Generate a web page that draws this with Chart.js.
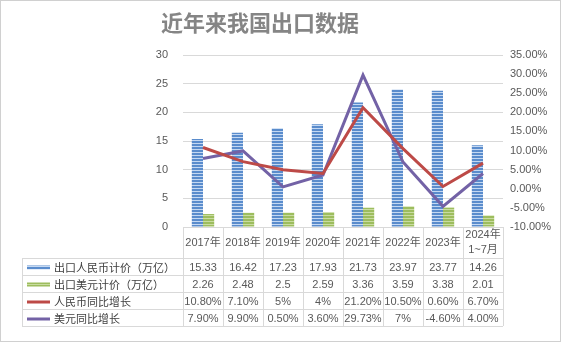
<!DOCTYPE html>
<html>
<head>
<meta charset="utf-8">
<script src="https://cdn.jsdelivr.net/npm/chart.js@4/dist/chart.umd.min.js"></script>
<style>
    html, body { margin: 0; padding: 0; background: #fff; }
    #wrap { width: 561px; height: 342px; position: relative; }
</style>
</head>
<body>
<div id="wrap"><canvas id="exportChart"></canvas></div>
<script>
// Data
const chartTitle = '近年来我国出口数据';
const years = ['2017年', '2018年', '2019年', '2020年', '2021年', '2022年', '2023年', ['2024年', '1~7月']];
const rmbValue = [15.33, 16.42, 17.23, 17.93, 21.73, 23.97, 23.77, 14.26];
const usdValue = [2.26, 2.48, 2.5, 2.59, 3.36, 3.59, 3.38, 2.01];
const rmbGrowth = [10.8, 7.1, 5, 4, 21.2, 10.5, 0.6, 6.7];
const usdGrowth = [7.9, 9.9, 0.5, 3.6, 29.73, 7, -4.6, 4.0];
const rmbGrowthText = ['10.80%', '7.10%', '5%', '4%', '21.20%', '10.50%', '0.60%', '6.70%'];
const usdGrowthText = ['7.90%', '9.90%', '0.50%', '3.60%', '29.73%', '7%', '-4.60%', '4.00%'];
const seriesNames = ['出口人民币计价（万亿）', '出口美元计价（万亿）', '人民币同比增长', '美元同比增长'];

const BLUE = '#5a8ccc', BLUE_LIGHT = '#c4d8f2';
const GREEN = '#9dbd5e', GREEN_LIGHT = '#c9dca0';
const RED = '#bd4a47', PURPLE = '#7362a6';
const FONT = "'Liberation Sans', 'Noto Sans CJK SC', sans-serif";
const CJK = "'Noto Sans CJK SC', sans-serif";

function stripes(base, light) {
    const c = document.createElement('canvas');
    c.width = 4; c.height = 3;
    const g = c.getContext('2d');
    g.fillStyle = base; g.fillRect(0, 0, 4, 3);
    g.fillStyle = light; g.fillRect(0, 2, 4, 1);
    return g.createPattern(c, 'repeat');
}
const bluePat = stripes(BLUE, BLUE_LIGHT);
const greenPat = stripes(GREEN, GREEN_LIGHT);

// title + data table under the plot, drawn along the x scale
const tablePlugin = {
    id: 'dataTable',
    afterDraw(chart) {
        const ctx = chart.ctx;
        const xs = chart.scales.x;
        const area = chart.chartArea;
        const colW = xs.getPixelForValue(1) - xs.getPixelForValue(0);
        const left = xs.getPixelForValue(0) - colW / 2;
        const right = left + colW * years.length;
        const top = area.bottom;
        const headBottom = 258;
        const rowH = 17;
        const tableLeft = 22;
        const bottom = headBottom + rowH * 4;

        ctx.save();
        ctx.fillStyle = '#858585';
        ctx.textAlign = 'center';
        ctx.textBaseline = 'middle';
        ctx.font = 'bold 22px ' + CJK;
        ctx.fillText(chartTitle, 260, 23);

        ctx.strokeStyle = '#d9d9d9';
        ctx.lineWidth = 1;
        ctx.beginPath();
        for (let i = 0; i <= years.length; i++) {
            const x = Math.round(left + i * colW) + 0.5;
            ctx.moveTo(x, top); ctx.lineTo(x, bottom);
        }
        for (let r = 0; r <= 4; r++) {
            const y = headBottom + r * rowH + 0.5;
            ctx.moveTo(tableLeft, y); ctx.lineTo(right, y);
        }
        ctx.moveTo(tableLeft + 0.5, headBottom); ctx.lineTo(tableLeft + 0.5, bottom);
        ctx.stroke();

        ctx.fillStyle = '#595959';
        ctx.font = '11px ' + FONT;
        years.forEach((y, i) => {
            const cx = left + (i + 0.5) * colW;
            if (Array.isArray(y)) {
                ctx.fillText(y[0], cx, 235);
                ctx.fillText(y[1], cx, 250);
            } else {
                ctx.fillText(y, cx, 243);
            }
        });
        const rows = [rmbValue.map(v => v.toString()), usdValue.map(v => v.toString()), rmbGrowthText, usdGrowthText];
        rows.forEach((vals, r) => {
            const cy = headBottom + r * rowH + rowH / 2 + 1;
            vals.forEach((v, i) => ctx.fillText(v, left + (i + 0.5) * colW, cy));
        });

        // legend keys
        const keys = [bluePat, greenPat, RED, PURPLE];
        ctx.textAlign = 'left';
        ctx.font = '11px ' + CJK;
        seriesNames.forEach((name, r) => {
            const cy = headBottom + r * rowH + rowH / 2 + 1;
            ctx.fillStyle = keys[r];
            if (r < 2) ctx.fillRect(27, cy - 2, 23, 4);
            else ctx.fillRect(27, cy - 1, 23, 3);
            ctx.fillStyle = '#404040';
            ctx.fillText(name, 54, cy);
        });

        // outer frame
        ctx.strokeStyle = '#d0d0d0';
        ctx.strokeRect(0.5, 0.5, chart.width - 1, chart.height - 1);
        ctx.restore();
    }
};

const chart = new Chart(document.getElementById('exportChart'), {
    type: 'bar',
    data: {
        labels: years,
        datasets: [{
            label: seriesNames[2],
            type: 'line',
            data: rmbGrowth,
            yAxisID: 'y1',
            borderColor: RED,
            borderWidth: 3,
            pointRadius: 0,
            tension: 0,
            order: 0
        }, {
            label: seriesNames[3],
            type: 'line',
            data: usdGrowth,
            yAxisID: 'y1',
            borderColor: PURPLE,
            borderWidth: 3,
            pointRadius: 0,
            tension: 0,
            order: 0
        }, {
            label: seriesNames[0],
            data: rmbValue,
            yAxisID: 'y',
            backgroundColor: bluePat,
            borderWidth: 0,
            categoryPercentage: 0.56,
            barPercentage: 1.0,
            order: 1
        }, {
            label: seriesNames[1],
            data: usdValue,
            yAxisID: 'y',
            backgroundColor: greenPat,
            borderWidth: 0,
            categoryPercentage: 0.56,
            barPercentage: 1.0,
            order: 1
        }]
    },
    options: {
        responsive: true,
        maintainAspectRatio: false,
        animation: false,
        layout: {
            padding: { top: 55, bottom: 115, left: 0, right: 0 }
        },
        plugins: {
            legend: { display: false },
            tooltip: { enabled: false },
            title: { display: false }
        },
        scales: {
            x: {
                display: false,
                offset: true
            },
            y: {
                position: 'left',
                min: 0,
                max: 30,
                ticks: {
                    stepSize: 5,
                    color: '#595959',
                    padding: 15,
                    font: { family: FONT, size: 11 }
                },
                grid: { color: '#d9d9d9', drawTicks: false },
                border: { display: false },
                afterFit(scale) { scale.width = 183; }
            },
            y1: {
                position: 'right',
                min: -10,
                max: 35,
                ticks: {
                    stepSize: 5,
                    color: '#595959',
                    padding: 7,
                    font: { family: FONT, size: 11 },
                    callback: function(value) {
                        return value.toFixed(2) + '%';
                    }
                },
                grid: { display: false, drawTicks: false },
                border: { display: false },
                afterFit(scale) { scale.width = 58; }
            }
        }
    },
    plugins: [tablePlugin]
});
</script>
</body>
</html>
